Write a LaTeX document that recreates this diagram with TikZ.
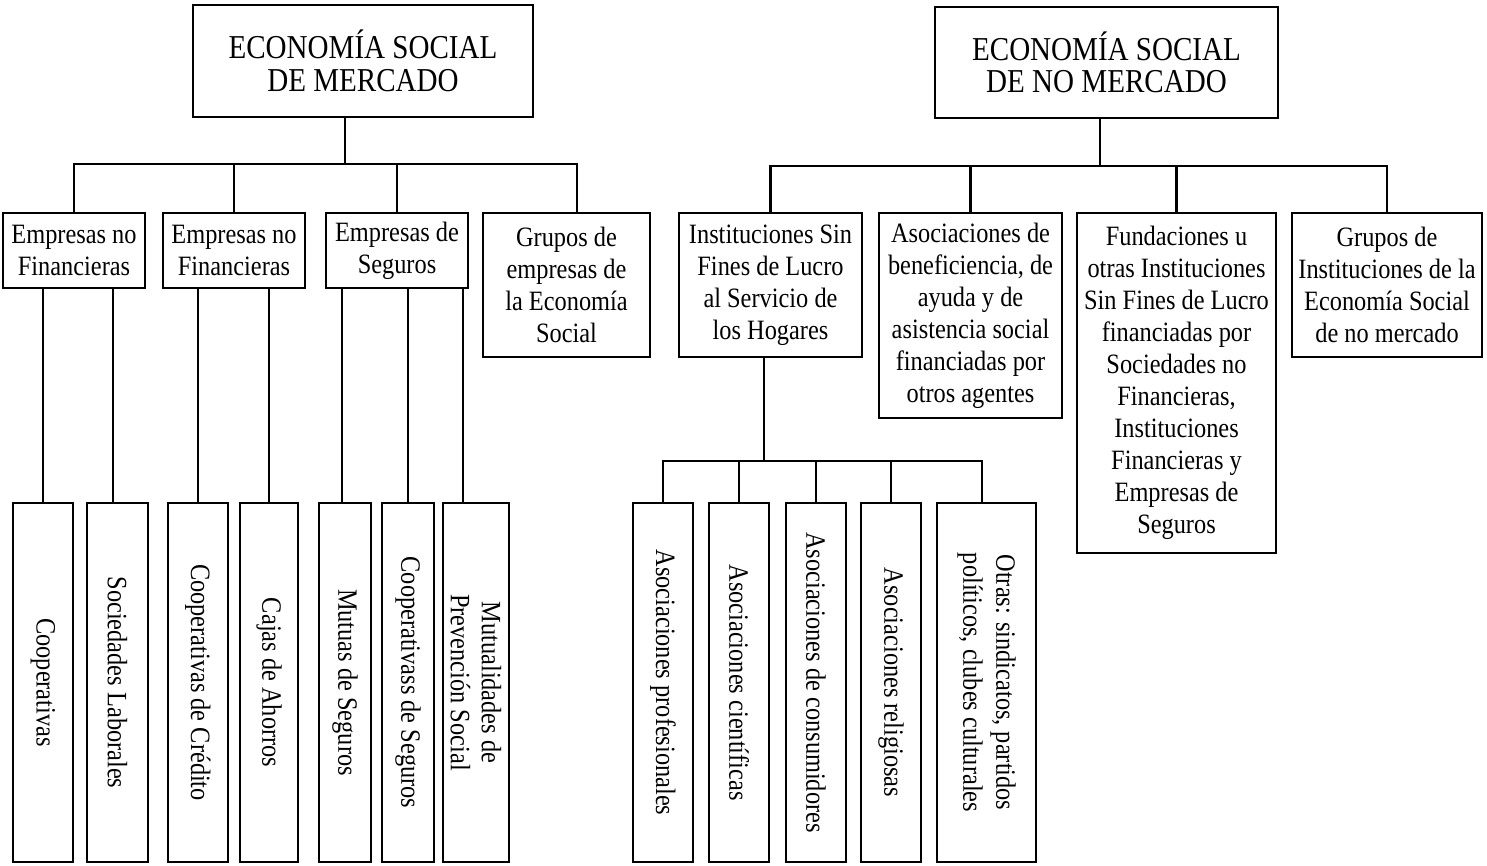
\documentclass[tikz,border=0pt]{standalone}
\usepackage{fontspec}
\setmainfont{Liberation Serif}[FakeStretch=0.87]
\begin{document}
\begin{tikzpicture}[x=0.5pt,y=-0.5pt,
  box/.style={draw, line width=1.2pt, inner sep=0pt, align=center, font=\fontsize{14}{16}\selectfont},
  ttl/.style={box, font=\fontsize{16.7}{16.3}\selectfont},
  wh/.style 2 args={minimum width=#1*0.5pt, minimum height=#2*0.5pt},
  vtext/.style={rotate=-90, inner sep=0pt, align=center, font=\fontsize{14}{15.5}\selectfont},
  ln/.style={line width=1.1pt}]
\useasboundingbox (0,0) rectangle (1487,866);

% titles
\node[ttl, wh={340}{112}] (tL) at (363,61) {ECONOMÍA SOCIAL\\DE MERCADO};
\node[ttl, wh={343}{111}] (tR) at (1106.5,62.5) {ECONOMÍA SOCIAL\\DE NO MERCADO};

% level 2 left
\node[box, wh={142}{75}] (B1) at (74,250.5) {Empresas no\\Financieras};
\node[box, wh={142}{75}] (B2) at (234,250.5) {Empresas no\\Financieras};
\node[box, wh={142}{75}] (B3) at (397,250.5) {Empresas de\\Seguros};
\node[box, wh={167}{144}] (B4) at (566.5,285) {Grupos de\\empresas de\\la Economía\\Social};

% level 2 right
\node[box, wh={183}{144}] (R1) at (770.5,285) {Instituciones Sin\\Fines de Lucro\\al Servicio de\\los Hogares};
\node[box, wh={183}{205}] (R2) at (970.5,315.5) {Asociaciones de\\beneficiencia, de\\ayuda y de\\asistencia social\\financiadas por\\otros agentes};
\node[box, wh={199}{340}] (R3) at (1176.5,383) {Fundaciones u\\otras Instituciones\\Sin Fines de Lucro\\financiadas por\\Sociedades no\\Financieras,\\Instituciones\\Financieras y\\Empresas de\\Seguros};
\node[box, wh={190}{144}] (R4) at (1387,285) {Grupos de\\Instituciones de la\\Economía Social\\de no mercado};

% level 3 left boxes
\node[box, wh={60}{359}] (C1) at (43,682.5) {};
\node[box, wh={61}{359}] (C2) at (117.5,682.5) {};
\node[box, wh={60}{359}] (C3) at (198,682.5) {};
\node[box, wh={58}{359}] (C4) at (269,682.5) {};
\node[box, wh={52}{359}] (C5) at (345,682.5) {};
\node[box, wh={52}{359}] (C6) at (408,682.5) {};
\node[box, wh={66}{359}] (C7) at (476,682.5) {};
\node[vtext] (C1t) at (C1) {Cooperativas};
\node[vtext] (C2t) at (C2) {Sociedades Laborales};
\node[vtext] (C3t) at (C3) {Cooperativas de Crédito};
\node[vtext] (C4t) at (C4) {Cajas de Ahorros};
\node[vtext] (C5t) at (C5) {Mutuas de Seguros};
\node[vtext] (C6t) at (C6) {Cooperativass de Seguros};
\node[vtext] (C7t) at (C7) {Mutualidades de\\Prevención Social};

% level 3 right boxes
\node[box, wh={60}{359}] (D1) at (663,682.5) {};
\node[box, wh={60}{359}] (D2) at (739,682.5) {};
\node[box, wh={60}{359}] (D3) at (816,682.5) {};
\node[box, wh={60}{359}] (D4) at (891,682.5) {};
\node[box, wh={99}{359}] (D5) at (986.5,682.5) {};
\node[vtext] (D1t) at (D1) {Asociaciones profesionales};
\node[vtext] (D2t) at (D2) {Asociaciones científicas};
\node[vtext] (D3t) at (D3) {Asociaciones de consumidores};
\node[vtext] (D4t) at (D4) {Asociaciones religiosas};
\node[vtext, font=\fontsize{14}{16.5}\selectfont] (D5t) at (D5) {Otras: sindicatos, partidos\\políticos, clubes culturales};

% connectors: left title
\path ([xshift=-9pt]tL.south) ++(0,46) coordinate (jL);
\draw[ln] ([xshift=-9pt]tL.south) -- (jL);
\draw[ln] (B1.north) |- (jL) -| ([xshift=5.25pt]B4.north);
\draw[ln] (B2.north) -- (B2.north |- jL);
\draw[ln] (B3.north) -- (B3.north |- jL);

% connectors: right title
\path ([xshift=-3.25pt]tR.south) ++(0,47) coordinate (jR);
\draw[ln] ([xshift=-3.25pt]tR.south) -- (jR);
\draw[ln] (R1.north) |- (jR) -| (R4.north);
\draw[ln] (R2.north) -- (R2.north |- jR);
\draw[ln] (R3.north) -- (R3.north |- jR);

% connectors: level 2 to level 3 (left)
\draw[ln] (C1.north) -- (C1.north |- B1.south);
\draw[ln] ([xshift=-2.25pt]C2.north) -- ([xshift=-2.25pt]C2.north |- B1.south);
\draw[ln] (C3.north) -- (C3.north |- B2.south);
\draw[ln] (C4.north) -- (C4.north |- B2.south);
\draw[ln] ([xshift=-1.5pt]C5.north) -- ([xshift=-1.5pt]C5.north |- B3.south);
\draw[ln] (C6.north) -- (C6.north |- B3.south);
\draw[ln] ([xshift=-6.5pt]C7.north) -- ([xshift=-6.5pt]C7.north |- B3.south);

% connectors: R1 to level 3 (right)
\path ([xshift=-3.25pt]R1.south) ++(0,103) coordinate (jD);
\draw[ln] ([xshift=-3.25pt]R1.south) -- (jD);
\draw[ln] (D1.north) |- (jD) -| ([xshift=-2.25pt]D5.north);
\draw[ln] (D2.north) -- (D2.north |- jD);
\draw[ln] (D3.north) -- (D3.north |- jD);
\draw[ln] (D4.north) -- (D4.north |- jD);
\end{tikzpicture}
\end{document}
